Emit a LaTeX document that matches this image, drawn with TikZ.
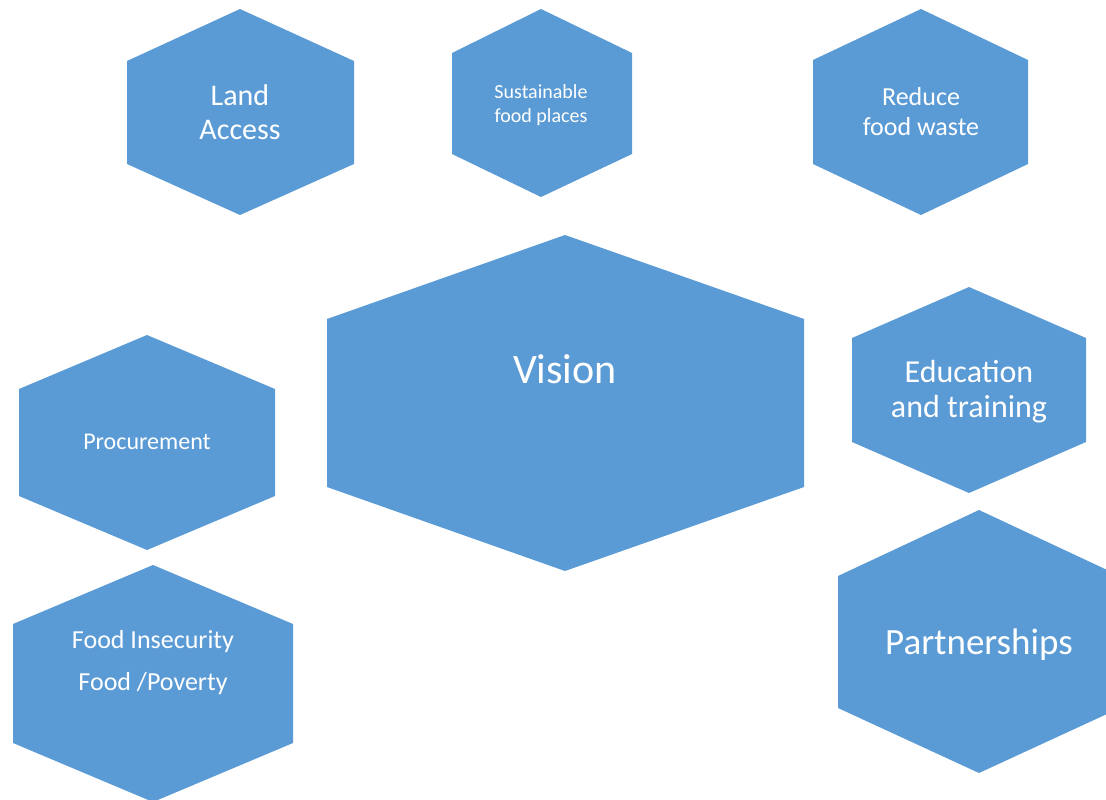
\documentclass[tikz,border=0pt]{standalone}
\usepackage{fontspec}
\setmainfont{Carlito}
\definecolor{hexblue}{RGB}{91,155,213}

\begin{document}
\begin{tikzpicture}[x=1pt, y=-1pt,
  hex/.style={fill=hexblue},
  hextext/.style={text=white, align=center, inner sep=0pt}]
\useasboundingbox (0,0) rectangle (1106,800);
\clip (0,0) rectangle (1106,800);
% top row
\fill[hex] (240,9) -- (354,61) -- (354,164) -- (240,215) -- (127,164) -- (127,61) -- cycle;
\node[hextext, font=\fontsize{30}{34}\selectfont] (land) at (240,112) {Land\\Access};
\fill[hex] (541,9) -- (632,53) -- (632,154) -- (541,197) -- (452,154) -- (452,53) -- cycle;
\node[hextext, font=\fontsize{20}{24}\selectfont] (places) at (541,105) {Sustainable\\food places};
\fill[hex] (921,9) -- (1028,60) -- (1028,164) -- (921,215) -- (813,164) -- (813,60) -- cycle;
\node[hextext, font=\fontsize{26}{30}\selectfont] (waste) at (921,112) {Reduce\\food waste};
% middle
\fill[hex] (565,235) -- (804,319) -- (804,487) -- (565,571) -- (327,487) -- (327,319) -- cycle;
\node[hextext, font=\fontsize{42}{48}\selectfont] (vision) at (565,369) {Vision};
\fill[hex] (147,335) -- (275,389) -- (275,496) -- (147,550) -- (19,496) -- (19,389) -- cycle;
\node[hextext, font=\fontsize{24}{28}\selectfont] (procure) at (147,442) {Procurement};
\fill[hex] (969,287) -- (1086,338) -- (1086,442) -- (969,493) -- (852,442) -- (852,338) -- cycle;
\node[hextext, font=\fontsize{32}{35}\selectfont] (educ) at (969,392) {Education\\and training};
% bottom row
\fill[hex] (153,565) -- (293,624) -- (293,743) -- (153,802) -- (13,743) -- (13,624) -- cycle;
\node[hextext, font=\fontsize{26}{42}\selectfont] (poverty) at (153,663) {Food Insecurity\\Food /Poverty};
\fill[hex] (979,510) -- (1120,576) -- (1120,708) -- (979,773) -- (838,708) -- (838,576) -- cycle;
\node[hextext, font=\fontsize{37}{42}\selectfont] (partner) at (979,645) {Partnerships};
\end{tikzpicture}
\end{document}
